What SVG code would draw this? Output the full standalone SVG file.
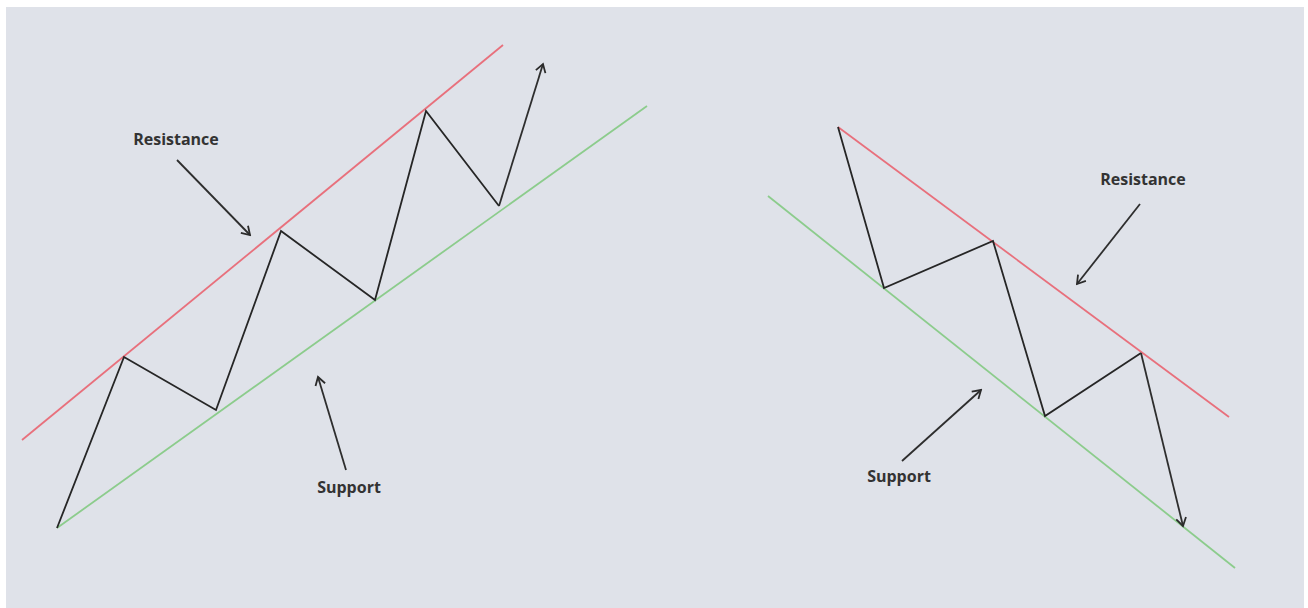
<svg xmlns="http://www.w3.org/2000/svg" width="1308" height="608" viewBox="0 0 1308 608">
<defs>
<marker id="ah" viewBox="0 0 12 12" refX="10" refY="6" markerWidth="12" markerHeight="12" markerUnits="userSpaceOnUse" orient="auto">
<path d="M2,1 L10,6 L2,11" fill="none" stroke="#2b2b2b" stroke-width="1.8"/>
</marker>
<style>
.res{stroke:#e8707c;stroke-width:1.8;fill:none}
.sup{stroke:#8ccc8c;stroke-width:1.8;fill:none}
.price{stroke:#262626;stroke-width:1.8;fill:none;stroke-linejoin:miter}
.ptr{stroke:#2e2e2e;stroke-width:1.8;fill:none;marker-end:url(#ah)}
.lbl{font-family:"Open Sans","Liberation Sans",sans-serif;font-weight:bold;font-size:16px;fill:#333;text-anchor:middle}
</style>
</defs>
<rect x="0" y="0" width="1308" height="608" fill="#ffffff"/>
<rect x="6" y="7" width="1298" height="601" fill="#dfe2e9"/>
<g id="uptrend-resistance"><line class="res" x1="22" y1="440" x2="503" y2="45"/></g>
<g id="uptrend-support"><line class="sup" x1="57" y1="528" x2="647" y2="106"/></g>
<g id="downtrend-resistance"><line class="res" x1="838" y1="127" x2="1229" y2="417"/></g>
<g id="downtrend-support"><line class="sup" x1="768" y1="196" x2="1235" y2="568"/></g>
<g id="connectors">
<polyline class="price" points="57,528 124,357 216,410 281,231 375,300 426,111 499,206" />
<line class="ptr" x1="499" y1="206" x2="543" y2="64"/>
<polyline class="price" points="838,127 884,288 993,241 1045,416 1141,353"/>
<line class="ptr" x1="1141" y1="353" x2="1183" y2="526"/>
<line class="ptr" x1="177" y1="160" x2="250" y2="235"/>
<line class="ptr" x1="346" y1="470" x2="318" y2="377"/>
<line class="ptr" x1="1140" y1="204" x2="1077" y2="284"/>
<line class="ptr" x1="902" y1="461" x2="981" y2="390"/>
</g>
<g id="label-resistance-1"><text class="lbl" x="176" y="145">Resistance</text></g>
<g id="label-support-1"><text class="lbl" x="349" y="493">Support</text></g>
<g id="label-resistance-2"><text class="lbl" x="1143" y="185">Resistance</text></g>
<g id="label-support-2"><text class="lbl" x="899" y="482">Support</text></g>
</svg>
